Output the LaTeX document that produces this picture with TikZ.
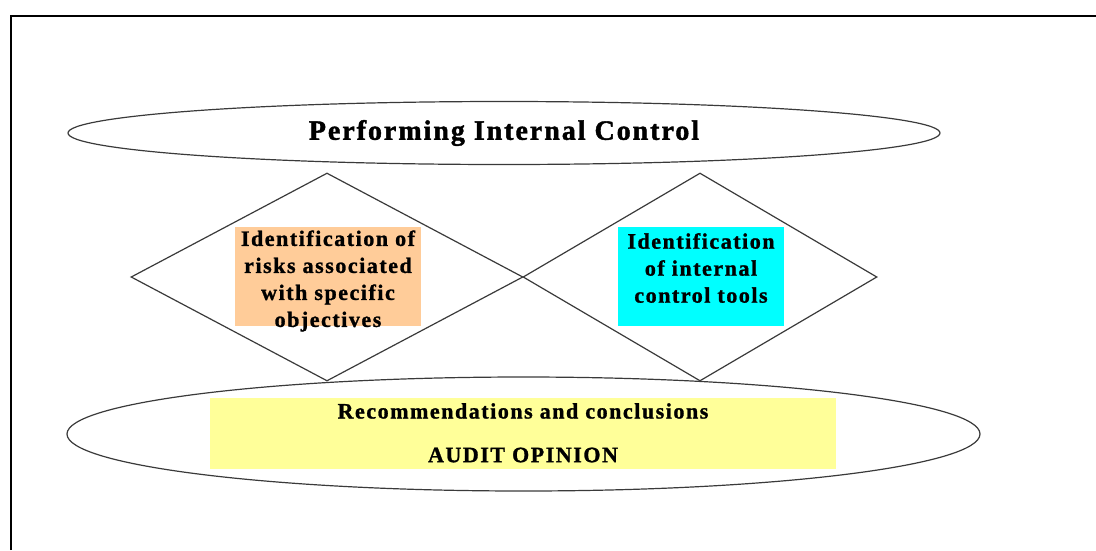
\documentclass[tikz,border=0pt]{standalone}
\usepackage{fontspec}
\setmainfont{Liberation Serif}
\newfontfamily\spacedfont[LetterSpace=7,BoldFeatures={FakeBold=1.2}]{Liberation Serif}
\newfontfamily\titlefont[LetterSpace=7,BoldFeatures={FakeBold=1.5}]{Liberation Serif}
\usetikzlibrary{shapes.geometric}
\definecolor{peach}{HTML}{FFCC99}
\definecolor{aqua}{HTML}{00FFFF}
\definecolor{paleyellow}{HTML}{FFFF99}
\definecolor{edge}{HTML}{3A3A3A}
\begin{document}
\begin{tikzpicture}[x=1pt,y=-1pt,
  outline/.style={draw=edge,line width=1.2pt},
  oval/.style={outline,ellipse,inner sep=0pt},
  rhombus/.style={outline,diamond,inner sep=0pt,aspect=1.7},
  textbox/.style={inner sep=0pt,align=center,font=\spacedfont\bfseries\fontsize{22}{27}\selectfont},
]
\useasboundingbox (0,0) rectangle (1096,550);
% frame
\draw[line width=2pt,black] (10.5,550) -- (10.5,16) -- (1096,16);

% top oval
\node[oval,minimum width=872pt,minimum height=63pt] (top) at (504,133) {};
\node[font=\titlefont\bfseries\fontsize{28}{32}\selectfont] (toptext) at (504,133) {Performing Internal Control};

% bottom oval
\node[oval,minimum width=913pt,minimum height=114pt] (bottom) at (523.5,434) {};

% two diamonds
\node[rhombus,minimum width=392pt,minimum height=208pt] (left) at (327,277) {};
\node[rhombus,minimum width=354pt,minimum height=208pt] (right) at (700,277) {};

% coloured text boxes
\fill[peach] (235,227) rectangle (421,326);
\node[textbox] (risks) at (328,281) {Identification of\\risks associated\\with specific\\objectives};
\fill[aqua] (618,227) rectangle (784,326);
\node[textbox] (tools) at (701,268) {Identification\\of internal\\control tools};
\fill[paleyellow] (210,398) rectangle (836,469);
\node[textbox] (rec) at (523,411) {Recommendations and conclusions};
\node[textbox] (audit) at (523,455) {AUDIT OPINION};
\end{tikzpicture}
\end{document}
